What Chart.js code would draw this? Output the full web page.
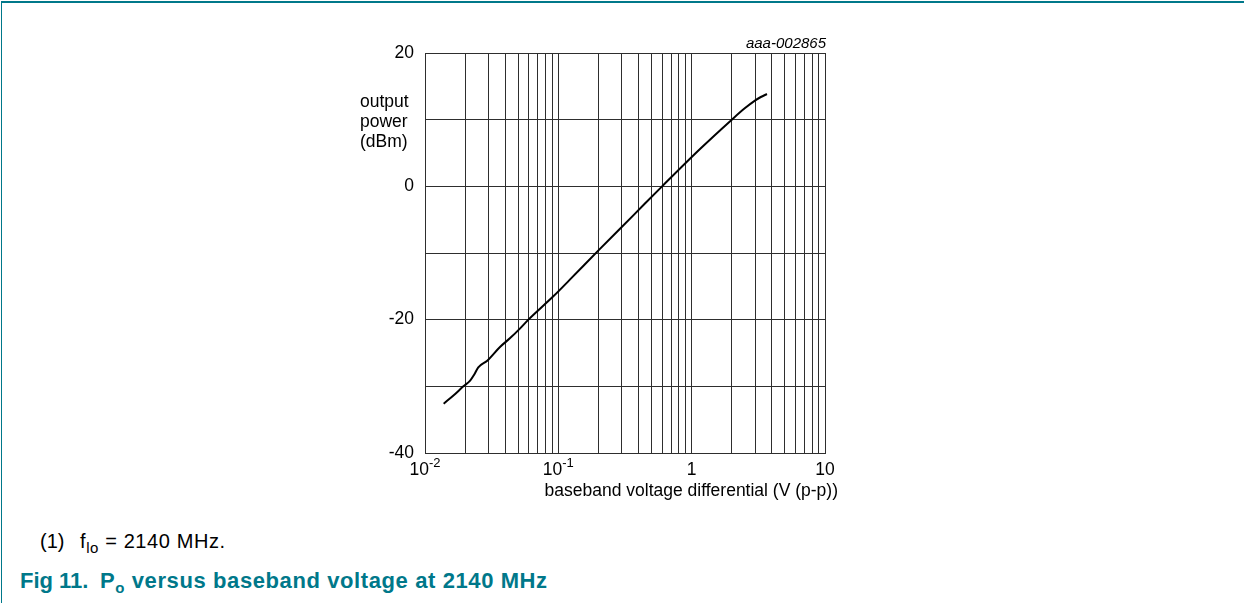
<!DOCTYPE html>
<html lang="en">
<head>
  <meta charset="UTF-8" />
  <title>Po versus baseband voltage at 2140 MHz</title>
  <script src="https://cdn.jsdelivr.net/npm/chart.js"></script>
  <style>
    body {
      margin: 0;
      width: 1244px;
      height: 603px;
      overflow: hidden;
      background: #fff;
      font-family: 'Liberation Sans', Arial, sans-serif;
      color: #000;
      position: relative;
    }

    .frame {
      position: absolute;
      left: 1px;
      top: 1px;
      right: 0;
      bottom: 0;
      border-top: 2px solid #00788a;
      border-left: 1px solid #00788a;
    }

    .chart-box {
      position: absolute;
      left: 340px;
      top: 30px;
      width: 520px;
      height: 470px;
    }

    .txt {
      position: absolute;
      white-space: nowrap;
    }

    .ytitle {
      left: 360px;
      top: 91px;
      font-size: 17.5px;
      line-height: 20px;
    }

    .xtitle {
      right: 406px;
      top: 480px;
      font-size: 17.5px;
      line-height: 20px;
    }

    .ref {
      right: 418px;
      top: 34px;
      font-size: 15px;
      line-height: 18px;
      font-style: italic;
    }

    .note {
      top: 529px;
      font-size: 20px;
      line-height: 24px;
    }

    .note sub {
      font-size: 15px;
      vertical-align: -5px;
      line-height: 0;
    }

    .caption {
      top: 568px;
      font-size: 22px;
      line-height: 26px;
      font-weight: bold;
      color: #00788a;
    }

    .caption sub {
      font-size: 15px;
      vertical-align: -5px;
      line-height: 0;
    }
  </style>
</head>
<body>
  <div class="frame"></div>

  <div class="chart-box">
    <canvas id="poChart"></canvas>
  </div>

  <div class="txt ref">aaa-002865</div>
  <div class="txt ytitle">output<br>power<br>(dBm)</div>
  <div class="txt xtitle">baseband voltage differential (V (p-p))</div>

  <div class="txt note" style="left:40px">(1)</div>
  <div class="txt note" style="left:80px; letter-spacing:0.6px">f<sub>lo</sub> = 2140 MHz.</div>

  <div class="txt caption" style="left:20px">Fig 11.</div>
  <div class="txt caption" style="left:100px; letter-spacing:0.6px">P<sub>o</sub> versus baseband voltage at 2140 MHz</div>

  <script>
    // curve: baseband voltage (V p-p) vs output power (dBm)
    const voltage = [0.0138, 0.0165, 0.0194, 0.0218, 0.0233, 0.0251, 0.0293, 0.0365, 0.0433,
                     0.0517, 0.0589, 0.0917, 0.122, 0.200, 0.365, 0.600, 1.155, 2.00, 2.50,
                     3.00, 3.30, 3.67];
    const power = [-32.6, -31.3, -30.0, -29.15, -28.3, -27.15, -26.15, -24.1, -22.8,
                   -21.3, -20.1, -16.5, -14.0, -9.6, -4.35, 0.0, 5.6, 10.0, 11.7,
                   12.9, 13.4, 13.85];

    // log grid lines 1..9 per decade, labels only on decades
    const xGrid = [0.01, 0.02, 0.03, 0.04, 0.05, 0.06, 0.07, 0.08, 0.09,
                   0.1, 0.2, 0.3, 0.4, 0.5, 0.6, 0.7, 0.8, 0.9,
                   1, 2, 3, 4, 5, 6, 7, 8, 9, 10];
    const xTickValues = [0.01, 0.1, 1, 10];
    const xTickBase = ['10', '10', '1', '10'];
    const xTickExp = ['-2', '-1', '', ''];
    const yLabelled = [20, 0, -20, -40];

    const gridColor = '#2e2e2e';
    const baseFont = '17.5px "Liberation Sans", Arial, sans-serif';
    const expFont = '13px "Liberation Sans", Arial, sans-serif';

    // decade labels with superscript exponents
    const decadeLabels = {
      id: 'decadeLabels',
      afterDraw(chart) {
        const ctx = chart.ctx;
        const xs = chart.scales.x;
        const y = chart.chartArea.bottom + 17;
        ctx.save();
        ctx.fillStyle = '#000';
        ctx.textBaseline = 'middle';
        ctx.textAlign = 'left';
        xTickValues.forEach((v, i) => {
          ctx.font = baseFont;
          const wb = ctx.measureText(xTickBase[i]).width;
          ctx.font = expFont;
          const we = xTickExp[i] ? ctx.measureText(xTickExp[i]).width : 0;
          const px = xs.getPixelForValue(v);
          const x0 = px - (wb + we) / 2;
          ctx.font = baseFont;
          ctx.fillText(xTickBase[i], x0, y);
          if (xTickExp[i]) {
            ctx.font = expFont;
            ctx.fillText(xTickExp[i], x0 + wb, y - 7);
          }
        });
        ctx.restore();
      }
    };

    new Chart(document.getElementById('poChart'), {
      type: 'line',
      data: {
        datasets: [{
          data: voltage.map((v, i) => ({ x: v, y: power[i] })),
          borderColor: '#000',
          borderWidth: 2,
          pointRadius: 0,
          fill: false,
          cubicInterpolationMode: 'monotone'
        }]
      },
      options: {
        responsive: true,
        maintainAspectRatio: false,
        animation: false,
        layout: { padding: { top: 23, right: 35, left: 0, bottom: 0 } },
        plugins: { legend: { display: false }, tooltip: { enabled: false } },
        scales: {
          x: {
            type: 'logarithmic',
            min: 0.01,
            max: 10,
            afterBuildTicks: (scale) => { scale.ticks = xGrid.map(v => ({ value: v })); },
            afterFit: (scale) => { scale.height = 47; },
            ticks: { autoSkip: false, maxRotation: 0, callback: () => '' },
            grid: { color: gridColor, lineWidth: 1, drawTicks: false },
            border: { display: true, color: gridColor }
          },
          y: {
            min: -40,
            max: 20,
            afterFit: (scale) => { scale.width = 85; },
            ticks: {
              stepSize: 10,
              padding: 11,
              color: '#000',
              font: { family: '"Liberation Sans", Arial, sans-serif', size: 17.5 },
              callback: (v) => yLabelled.includes(v) ? String(v) : ''
            },
            grid: { color: gridColor, lineWidth: 1, drawTicks: false },
            border: { display: true, color: gridColor }
          }
        }
      },
      plugins: [decadeLabels]
    });
  </script>
</body>
</html>
